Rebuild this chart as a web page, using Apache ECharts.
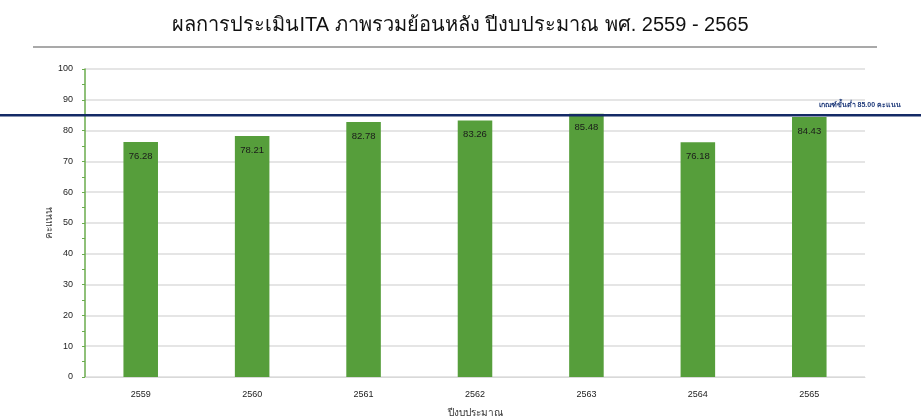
<!DOCTYPE html>
<html>
<head>
<meta charset="utf-8">
<script src="https://cdn.jsdelivr.net/npm/echarts@6/dist/echarts.min.js"></script>
<style>
  html, body { margin: 0; padding: 0; background: #fff; }
  #chart { width: 921px; height: 419px; }
</style>
</head>
<body>
<div id="chart"></div>
<script>
const years = ['2559', '2560', '2561', '2562', '2563', '2564', '2565']
const scores = [76.28, 78.21, 82.78, 83.26, 85.48, 76.18, 84.43]
const threshold = 85
const thresholdLabel = 'เกณฑ์ขั้นต่ำ 85.00 คะแนน'

const font = '"Liberation Sans", Arial, "Noto Sans", sans-serif'
const chart = echarts.init(document.getElementById('chart'))

chart.setOption({
  animation: false,
  textStyle: { fontFamily: font },
  title: {
    text: 'ผลการประเมินITA ภาพรวมย้อนหลัง ปีงบประมาณ พศ. 2559 - 2565',
    left: 'center',
    top: 10,
    textStyle: { fontSize: 20, fontWeight: 'normal', color: '#111', fontFamily: font },
  },
  grid: { left: 85, right: 56, top: 69, bottom: 42, outerBoundsMode: 'none', containLabel: false },
  xAxis: {
    type: 'category',
    data: years,
    name: 'ปีงบประมาณ',
    nameLocation: 'middle',
    nameGap: 31,
    nameMoveOverlap: false,
    nameTextStyle: { fontSize: 10, color: '#333' },
    axisLine: { lineStyle: { color: '#d9d9d9', width: 1 } },
    axisTick: { show: false },
    axisLabel: { fontSize: 9, color: '#222', margin: 13 },
  },
  yAxis: {
    type: 'value',
    min: 0,
    max: 100,
    interval: 10,
    name: 'คะแนน',
    nameLocation: 'middle',
    nameGap: 31,
    nameMoveOverlap: false,
    nameTextStyle: { fontSize: 10, color: '#333' },
    axisLine: { show: true, lineStyle: { color: '#6aab4c', width: 1.5 } },
    axisTick: { show: true, length: 3, lineStyle: { color: '#6aab4c' } },
    minorTick: { show: true, splitNumber: 2, length: 3, lineStyle: { color: '#6aab4c' } },
    axisLabel: { fontSize: 9, color: '#222', margin: 12 },
    splitLine: { lineStyle: { color: '#dcdcdc', width: 1.5 } },
  },
  series: [
    {
      type: 'bar',
      data: scores,
      barWidth: '31%',
      itemStyle: { color: '#569e3b' },
      label: {
        show: true,
        position: 'insideTop',
        distance: 9,
        fontSize: 9.5,
        color: '#1a1a1a',
        formatter: p => p.value.toFixed(2),
      },
      z: 2,
    },
  ],
})

// full-width threshold line and title rule, placed through the y scale
function drawOverlay() {
  const y = chart.convertToPixel({ yAxisIndex: 0 }, threshold)
  const w = chart.getWidth()
  chart.setOption({
    graphic: [
      {
        type: 'line',
        shape: { x1: 33, y1: 47, x2: 877, y2: 47 },
        style: { stroke: '#8c8c8c', lineWidth: 1.5 },
      },
      {
        type: 'line',
        shape: { x1: 0, y1: y, x2: w, y2: y },
        style: { stroke: '#142a66', lineWidth: 2.5 },
        z: 10,
      },
      {
        type: 'text',
        right: 20,
        top: y - 14,
        style: {
          text: thresholdLabel,
          fill: '#1f3a7a',
          font: 'bold 7px ' + font,
        },
        z: 10,
      },
    ],
  })
}
drawOverlay()
</script>
</body>
</html>
